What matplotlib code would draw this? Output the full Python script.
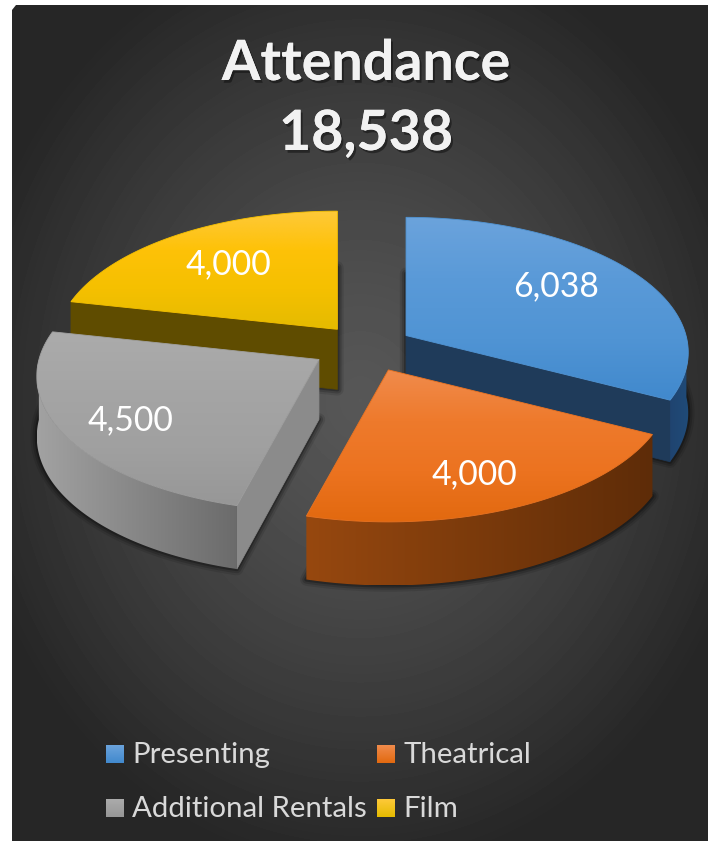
import numpy as np
import matplotlib
matplotlib.use('Agg')
import matplotlib.pyplot as plt
import matplotlib.patheffects as pe
from matplotlib.colors import LinearSegmentedColormap
from matplotlib.patches import Polygon

TITLE = 'Attendance'
TOTAL_LABEL = '18,538'
names = ['Presenting', 'Theatrical', 'Additional Rentals', 'Film']
values = [6038, 4000, 4500, 4000]
value_labels = ['6,038', '4,000', '4,500', '4,000']

top_colors = [['#6ba3dc', '#5a9ad8', '#5094d4', '#4189cd'],
              ['#f08b4c', '#ee7a2c', '#ec7320', '#e2690f'],
              ['#ababab', '#a5a5a5', '#a0a0a0', '#979797'],
              ['#fec93a', '#fec208', '#f5c000', '#e5bb00']]
cut_colors = ['#1f3b5a', '#5f2d0a', '#8b8b8b', '#5f4c00']
rim_colors = [['#1f4470', '#204b78'], ['#97480f', '#5e2c08'],
              ['#a2a2a2', '#6b6b6b'], ['#5f4c00', '#5f4c00']]

W, H = 708, 841
CX, CY = 365, 347
RX, RY = 280, 133
PERSP = 0.125
EXPLODE = 0.18
DEPTH = 60
# small per-slice offsets on top of the explosion
nudge = [(-2, 1), (3, 1), (-3, 0), (4, 1)]

plt.rcParams['font.family'] = ['Lato', 'DejaVu Sans']

fig = plt.figure(figsize=(W / 100, H / 100), dpi=100, facecolor='white')
ax = fig.add_axes([0, 0, 1, 1])
ax.axis('off')


def gradient_fill(xy, colors, horizontal=False, zorder=2, edge=None):
    # linear gradient clipped to a polygon, with a thin edge to smooth the clip
    xy = np.asarray(xy)
    cmap = LinearSegmentedColormap.from_list('g', colors)
    ramp = np.linspace(0, 1, 256)
    ramp = ramp[None, :] if horizontal else ramp[:, None]
    x0, x1 = xy[:, 0].min(), xy[:, 0].max()
    y0, y1 = xy[:, 1].min(), xy[:, 1].max()
    img = ax.imshow(ramp, cmap=cmap, vmin=0, vmax=1, aspect='auto', origin='upper',
                    extent=(x0, x1, y1, y0), zorder=zorder, interpolation='bilinear')
    patch = Polygon(xy, closed=True, facecolor='none', edgecolor='none', zorder=zorder)
    ax.add_patch(patch)
    img.set_clip_path(patch)
    if edge:
        ax.add_patch(Polygon(xy, closed=True, facecolor='none', edgecolor=edge, lw=0.6,
                             zorder=zorder + 0.5))


# page background, lighter in the middle
yy, xx = np.mgrid[0:H, 0:W]
dist = np.clip(np.hypot((xx - 360) / 400, (yy - 400) / 470), 0, 1)
grey = 0.34 - 0.19 * dist ** 1.3
bg = ax.imshow(grey, cmap='gray', vmin=0, vmax=1, extent=(0, W, H, 0), aspect='auto',
               zorder=0, interpolation='bilinear')
frame = Polygon([(12, 10), (16, 5), (W, 5), (W, H), (12, H)], closed=True,
                facecolor='none', edgecolor='none')
ax.add_patch(frame)
bg.set_clip_path(frame)

# slice angles, clockwise from the top
fractions = np.array(values) / sum(values) * 2 * np.pi
ends = np.cumsum(fractions)
starts = ends - fractions


def apex_of(mid, shift):
    return (CX + EXPLODE * RX * np.sin(mid) + shift[0],
            CY - EXPLODE * RY * np.cos(mid) + shift[1])


def project(apex, theta, r=1.0):
    u = r * np.sin(theta)
    v = -r * np.cos(theta)
    s = 1 / (1 - PERSP * v)
    return np.column_stack([apex[0] + RX * u * s, apex[1] + RY * v * s])


def drop(xy, theta, r=1.0):
    v = -r * np.cos(theta)
    out = np.array(xy, dtype=float)
    out[:, 1] += DEPTH * (1 + 0.06 * v)
    return out


for i in [3, 0, 2, 1]:
    z = 2 + 4 * [3, 0, 2, 1].index(i)
    t0, t1 = starts[i], ends[i]
    apex = apex_of((t0 + t1) / 2, nudge[i])
    thetas = np.linspace(t0, t1, 120)
    rim = project(apex, thetas)
    top = np.vstack([[apex], rim])
    apex_low = drop(np.array([apex]), np.array([0.0]), 0.0)
    floor = np.vstack([apex_low, drop(rim, thetas)])

    # soft shadow on the floor
    for lw, a in [(9, 0.10), (6, 0.16), (3, 0.25)]:
        ax.add_patch(Polygon(floor, closed=True, facecolor='#1a1a1a', edgecolor='#000000',
                             lw=lw, alpha=a, joinstyle='round', zorder=z))

    # flat cut faces turned towards the viewer
    if np.sin(t0) < 0:
        a = project(apex, np.array([t0]))
        quad = np.vstack([[apex], a, drop(a, np.array([t0])), apex_low])
        ax.add_patch(Polygon(quad, closed=True, facecolor=cut_colors[i], edgecolor=cut_colors[i],
                             lw=0.5, zorder=z + 1))
    if np.sin(t1) > 0:
        a = project(apex, np.array([t1]))
        quad = np.vstack([[apex], a, drop(a, np.array([t1])), apex_low])
        ax.add_patch(Polygon(quad, closed=True, facecolor=cut_colors[i], edgecolor=cut_colors[i],
                             lw=0.5, zorder=z + 1))

    # curved outer wall on the near half
    near = thetas[np.cos(thetas) < 0]
    if len(near) > 1:
        upper = project(apex, near)
        lower = drop(upper, near)
        strip = np.vstack([upper, lower[::-1]])
        gradient_fill(strip, rim_colors[i], horizontal=True, zorder=z + 1)

    gradient_fill(top, top_colors[i], zorder=z + 2, edge=top_colors[i][2])

label_xy = [(556, 286), (474, 474), (130, 420), (228, 264)]
for (x, y), s in zip(label_xy, value_labels):
    ax.text(x, y, s, color='white', fontsize=24.3, ha='center', va='center', zorder=40)

shadow = [pe.withSimplePatchShadow(offset=(1.5, -2), shadow_rgbFace='black', alpha=0.4), pe.Normal()]
ax.text(366, 80, TITLE, color='#f2f2f2', fontsize=40, fontweight='bold', ha='center',
        va='baseline', zorder=40, path_effects=shadow)
ax.text(366, 150, TOTAL_LABEL, color='#f2f2f2', fontsize=40, fontweight='bold', ha='center',
        va='baseline', zorder=40, path_effects=shadow)

# legend laid out in two rows
legend_xy = [(106, 745), (377, 745), (106, 799), (377, 799)]
for (x, y), name, cols in zip(legend_xy, names, top_colors):
    square = [(x, y), (x + 18, y), (x + 18, y + 18), (x, y + 18)]
    gradient_fill(square, [cols[0], cols[3]], zorder=30)
    ax.text(x + 26, y + 18, name, color='#d9d9d9', fontsize=21.2, ha='left', va='baseline', zorder=40)

ax.set_xlim(0, W)
ax.set_ylim(H, 0)
fig.savefig('out.png', dpi=100, facecolor='white')
